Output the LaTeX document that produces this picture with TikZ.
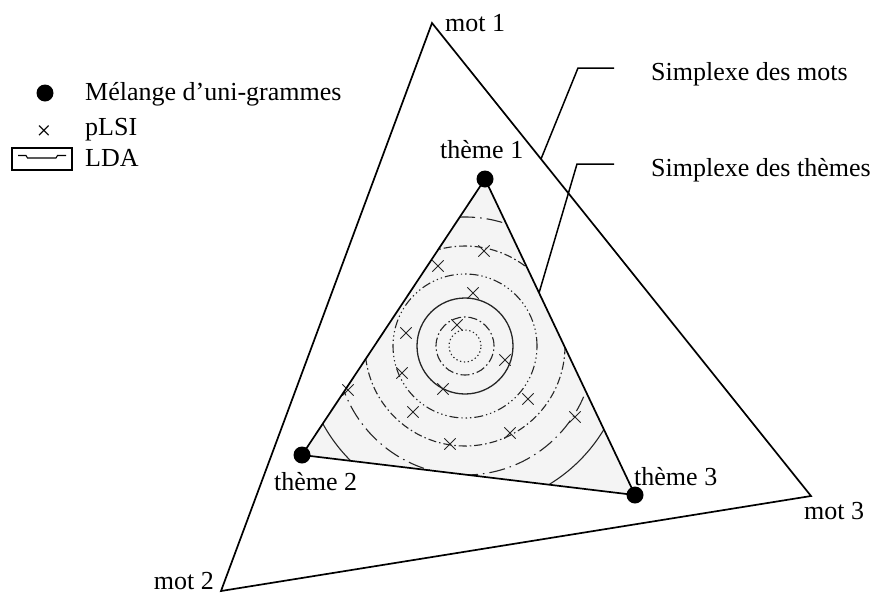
\documentclass[tikz,border=0pt]{standalone}
\usepackage{fontspec}
\setmainfont{Liberation Serif}
\usetikzlibrary{shapes.misc}

\begin{document}
\begin{tikzpicture}[x=1pt,y=-1pt,
  lbl/.style={inner sep=0pt, font=\fontsize{26}{30}\selectfont},
  edge/.style={line width=1.7pt, line join=miter},
  leader/.style={line width=1.5pt},
  vertexdot/.style={circle, fill=black, inner sep=0pt, minimum size=17pt},
  plsi/.style={cross out, draw=black!85, line width=0.8pt, inner sep=0pt, minimum size=10.5pt},
  ring/.style={line width=1.1pt, black!85},
]
\useasboundingbox (0,0) rectangle (877,595);

% vertices of the word simplex and of the topic simplex
\coordinate (m1) at (432,23);
\coordinate (m2) at (221,591);
\coordinate (m3) at (811,496);
\coordinate (v1) at (485,179);
\coordinate (v2) at (302,455);
\coordinate (v3) at (635,495);
\coordinate (c) at (465,346);

% shaded topic simplex with the LDA density contours
\begin{scope}
  \clip (v1) -- (v2) -- (v3) -- cycle;
  \fill[gray!9] (v1) -- (v2) -- (v3) -- cycle;
  \draw[ring, dash pattern=on 1.3pt off 2.6pt] (c) circle[radius=16pt];
  \draw[ring, dash pattern=on 9pt off 3pt on 1.5pt off 3pt] (c) circle[radius=29pt];
  \draw[ring, line width=1.3pt] (c) circle[radius=48pt];
  \draw[ring, dash pattern=on 9pt off 3pt on 1.3pt off 3pt on 1.3pt off 3pt on 1.3pt off 3pt] (c) circle[radius=72pt];
  \draw[ring, dash pattern=on 8pt off 3pt on 1.5pt off 3pt] (c) circle[radius=100pt];
  \draw[ring, dash pattern=on 16pt off 5pt on 1.5pt off 5pt] (c) circle[radius=129pt];
  \draw[ring] (c) circle[radius=162pt];
\end{scope}

% pLSI points
\foreach \px/\py [count=\i] in {484/251, 438/266, 473/293, 406/333, 457/325, 505/360,
    402/373, 443/389, 528/399, 413/412, 575/417, 510/433, 450/444, 348/390}
  \node[plsi] (p\i) at (\px,\py) {};

% the two simplices
\draw[edge] (m1) -- (m2) -- (m3) -- cycle;
\draw[edge] (v1) -- (v2) -- (v3) -- cycle;

% unigram mixture points at the topic vertices
\node[vertexdot] (t1) at (v1) {};
\node[vertexdot] (t2) at (v2) {};
\node[vertexdot] (t3) at (v3) {};

% vertex labels
\node[lbl, anchor=base west] (lm1) at (445,31) {mot 1};
\node[lbl, anchor=base east] (lm2) at (214,589) {mot 2};
\node[lbl, anchor=base west] (lm3) at (804,519) {mot 3};
\node[lbl, anchor=base west] (lt1) at (440,158) {thème 1};
\node[lbl, anchor=base west] (lt2) at (274,490) {thème 2};
\node[lbl, anchor=base west] (lt3) at (634,485) {thème 3};

% simplex captions with their leader lines
\node[lbl, anchor=base west] (smots) at (651,80) {Simplexe des mots};
\node[lbl, anchor=base west] (sthemes) at (651,176) {Simplexe des thèmes};
\coordinate (wa) at (541,159);
\coordinate (wk) at (578,68);
\coordinate (we) at (614,68);
\coordinate (ta) at (539,293);
\coordinate (tk) at (577,164);
\coordinate (te) at (614,164);
\draw[leader] (wa) -- (wk) -- (we);
\draw[leader] (ta) -- (tk) -- (te);

% legend
\node[vertexdot] (kdot) at (45,93) {};
\node[lbl] (kcross) at (44,133) {×};
\node[draw, line width=1.3pt, minimum width=60pt, minimum height=22pt, inner sep=0pt] (kbox) at (42,159) {};
\draw[line width=1.1pt] (18,155.5) -- (26,155.5) -- (27.5,158) -- (56,158) -- (57.5,155.5) -- (66,155.5);
\node[lbl, anchor=base west] (kmix) at (85,100) {Mélange d’uni-grammes};
\node[lbl, anchor=base west] (kplsi) at (85,135) {pLSI};
\node[lbl, anchor=base west] (klda) at (85,166) {LDA};
\end{tikzpicture}
\end{document}
